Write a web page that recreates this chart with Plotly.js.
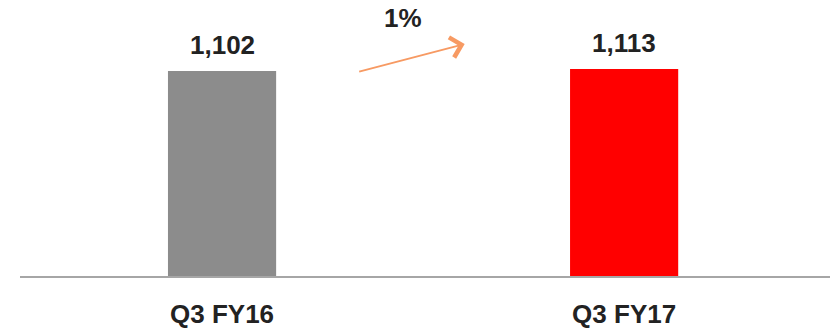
<!DOCTYPE html>
<html>
<head>
<meta charset="utf-8">
<script src="https://cdn.plot.ly/plotly-3.0.1.min.js"></script>
<style>html,body{margin:0;padding:0;background:#fff;}#chart{width:830px;height:329px;}</style>
</head>
<body>
<div id="chart"></div>
<script>
const categories = ["Q3 FY16", "Q3 FY17"];
const values = [1102, 1113];
const barColors = ["#8c8c8c", "#ff0000"];
const growthLabel = "1%";

const font = "Arial, 'Liberation Sans', sans-serif";

const trace = {
  type: "bar",
  x: categories,
  y: values,
  marker: {color: barColors},
  width: 0.269,
  hoverinfo: "none"
};

const valueAnnotations = categories.map((c, i) => ({
  x: c, y: values[i], xref: "x", yref: "y",
  text: "<b>" + values[i].toLocaleString("en-US") + "</b>",
  showarrow: false, yanchor: "middle", yshift: 26,
  font: {family: font, size: 26, color: "#222222"}
}));

const layout = {
  width: 830, height: 329,
  margin: {l: 20, r: 0, t: 0, b: 53},
  paper_bgcolor: "#ffffff", plot_bgcolor: "#ffffff",
  showlegend: false,
  xaxis: {
    range: [-0.5025, 1.512],
    showline: true, linecolor: "#a6a6a6", linewidth: 2,
    ticks: "", showgrid: false, zeroline: false,
    tickfont: {family: font, size: 26, color: "#222222", weight: "bold"},
    ticklabelstandoff: 14
  },
  yaxis: {
    range: [0, 1483.7], visible: false, showgrid: false, zeroline: false
  },
  annotations: valueAnnotations.concat([
    {
      xref: "paper", yref: "paper", x: 0.549, y: 0.8406,
      axref: "pixel", ayref: "pixel", ax: -107, ay: 28,
      showarrow: true, arrowhead: 4, arrowsize: 2, arrowwidth: 2,
      arrowcolor: "#f79a63", standoff: 0, startstandoff: 0, text: ""
    },
    {
      xref: "paper", yref: "paper", x: (403 - 20) / 810, y: (276 - 18) / 276,
      text: "<b>" + growthLabel + "</b>", showarrow: false,
      xanchor: "center", yanchor: "middle",
      font: {family: font, size: 26, color: "#222222"}
    }
  ])
};

Plotly.newPlot("chart", [trace], layout, {displayModeBar: false, staticPlot: true});
</script>
</body>
</html>
